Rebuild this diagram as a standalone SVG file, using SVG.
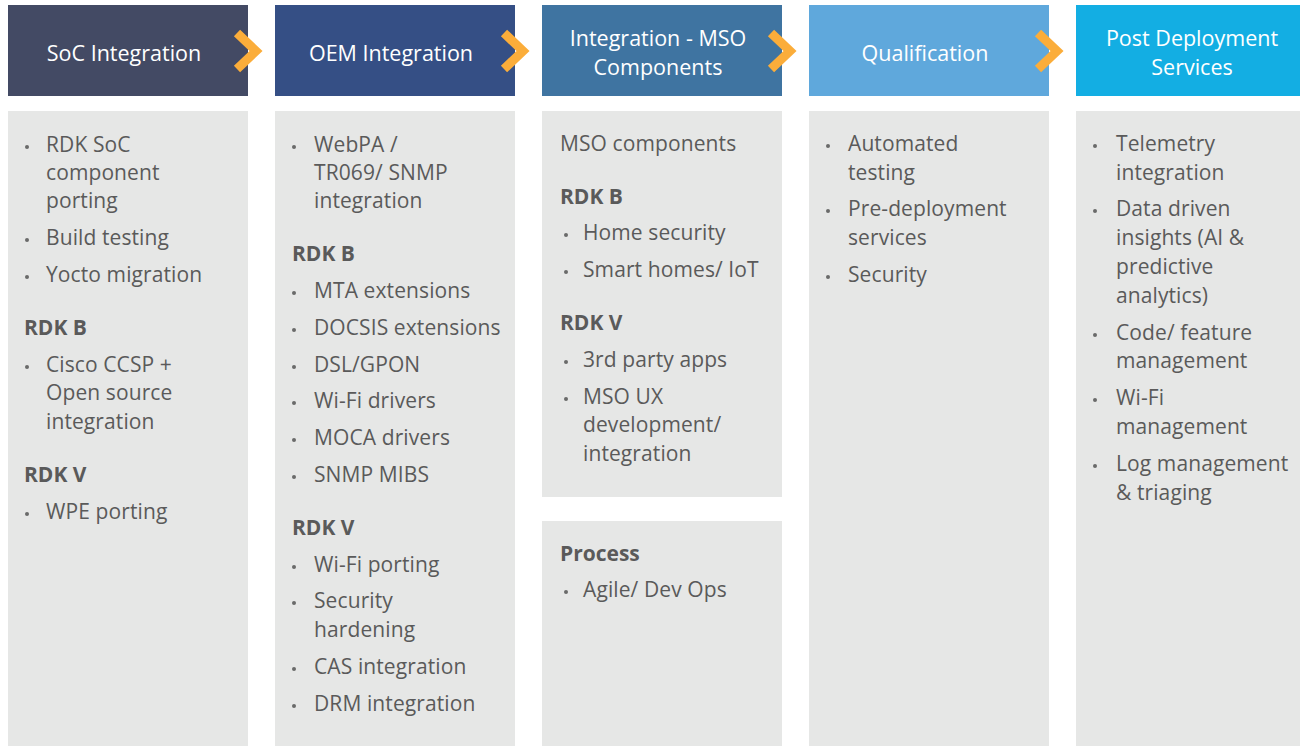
<svg xmlns="http://www.w3.org/2000/svg" width="1300" height="746" viewBox="0 0 1300 746">
<style>
.hd{font-family:"Open Sans","Liberation Sans",sans-serif;font-size:21.5px;fill:#ffffff;text-anchor:middle}
.t{font-family:"Open Sans","Liberation Sans",sans-serif;font-size:21px;letter-spacing:0.1px;fill:#5a5a5a}
.b{font-family:"Open Sans","Liberation Sans",sans-serif;font-size:21px;fill:#5a5a5a;font-weight:bold}
.body{fill:#e6e7e6}
.dot{fill:#6a6a6a}
.chev{fill:none;stroke:#fbad3a;stroke-width:9}
</style>
<rect width="1300" height="746" fill="#ffffff"/>
<g id="col1">
<rect x="8" y="5" width="240" height="91" fill="#434a64"/>
<text class="hd" x="124" y="61">SoC Integration</text>
<rect class="body" x="8" y="111" width="240" height="640"/>
<circle class="dot" cx="27" cy="147" r="2"/><text class="t" x="46" y="152">RDK SoC</text>
<text class="t" x="46" y="180">component</text>
<text class="t" x="46" y="208">porting</text>
<circle class="dot" cx="27" cy="240" r="2"/><text class="t" x="46" y="245">Build testing</text>
<circle class="dot" cx="27" cy="277" r="2"/><text class="t" x="46" y="282">Yocto migration</text>
<text class="b" x="24" y="335">RDK B</text>
<circle class="dot" cx="27" cy="367" r="2"/><text class="t" x="46" y="372">Cisco CCSP +</text>
<text class="t" x="46" y="400">Open source</text>
<text class="t" x="46" y="429">integration</text>
<text class="b" x="24" y="482">RDK V</text>
<circle class="dot" cx="27" cy="514" r="2"/><text class="t" x="46" y="519">WPE porting</text>
</g>
<g id="col2">
<rect x="275" y="5" width="240" height="91" fill="#354f85"/>
<text class="hd" x="391" y="61">OEM Integration</text>
<rect class="body" x="275" y="111" width="240" height="640"/>
<circle class="dot" cx="294" cy="147" r="2"/><text class="t" x="314" y="152">WebPA /</text>
<text class="t" x="314" y="180">TR069/ SNMP</text>
<text class="t" x="314" y="208">integration</text>
<text class="b" x="292" y="261">RDK B</text>
<circle class="dot" cx="294" cy="293" r="2"/><text class="t" x="314" y="298">MTA extensions</text>
<circle class="dot" cx="294" cy="330" r="2"/><text class="t" x="314" y="335">DOCSIS extensions</text>
<circle class="dot" cx="294" cy="367" r="2"/><text class="t" x="314" y="372">DSL/GPON</text>
<circle class="dot" cx="294" cy="403" r="2"/><text class="t" x="314" y="408">Wi-Fi drivers</text>
<circle class="dot" cx="294" cy="440" r="2"/><text class="t" x="314" y="445">MOCA drivers</text>
<circle class="dot" cx="294" cy="477" r="2"/><text class="t" x="314" y="482">SNMP MIBS</text>
<text class="b" x="292" y="535">RDK V</text>
<circle class="dot" cx="294" cy="567" r="2"/><text class="t" x="314" y="572">Wi-Fi porting</text>
<circle class="dot" cx="294" cy="603" r="2"/><text class="t" x="314" y="608">Security</text>
<text class="t" x="314" y="637">hardening</text>
<circle class="dot" cx="294" cy="669" r="2"/><text class="t" x="314" y="674">CAS integration</text>
<circle class="dot" cx="294" cy="706" r="2"/><text class="t" x="314" y="711">DRM integration</text>
</g>
<g id="col3">
<rect x="542" y="5" width="240" height="91" fill="#3f74a1"/>
<text class="hd" x="658" y="46">Integration - MSO</text>
<text class="hd" x="658" y="75">Components</text>
<rect class="body" x="542" y="111" width="240" height="386"/>
<text class="t" x="560" y="151">MSO components</text>
<text class="b" x="560" y="204">RDK B</text>
<circle class="dot" cx="566" cy="235" r="2"/><text class="t" x="583" y="240">Home security</text>
<circle class="dot" cx="566" cy="272" r="2"/><text class="t" x="583" y="277">Smart homes/ IoT</text>
<text class="b" x="560" y="330">RDK V</text>
<circle class="dot" cx="566" cy="362" r="2"/><text class="t" x="583" y="367">3rd party apps</text>
<circle class="dot" cx="566" cy="399" r="2"/><text class="t" x="583" y="404">MSO UX</text>
<text class="t" x="583" y="432">development/</text>
<text class="t" x="583" y="461">integration</text>
</g>
<g id="col3b">
<rect class="body" x="542" y="521" width="240" height="230"/>
<text class="b" x="560" y="561">Process</text>
<circle class="dot" cx="566" cy="592" r="2"/><text class="t" x="583" y="597">Agile/ Dev Ops</text>
</g>
<g id="col4">
<rect x="809" y="5" width="240" height="91" fill="#5fa8dc"/>
<text class="hd" x="925" y="61">Qualification</text>
<rect class="body" x="809" y="111" width="240" height="640"/>
<circle class="dot" cx="828" cy="146" r="2"/><text class="t" x="848" y="151">Automated</text>
<text class="t" x="848" y="180">testing</text>
<circle class="dot" cx="828" cy="211" r="2"/><text class="t" x="848" y="216">Pre-deployment</text>
<text class="t" x="848" y="245">services</text>
<circle class="dot" cx="828" cy="277" r="2"/><text class="t" x="848" y="282">Security</text>
</g>
<g id="col5">
<rect x="1076" y="5" width="240" height="91" fill="#13aee3"/>
<text class="hd" x="1192" y="46">Post Deployment</text>
<text class="hd" x="1192" y="75">Services</text>
<rect class="body" x="1076" y="111" width="240" height="640"/>
<circle class="dot" cx="1095" cy="146" r="2"/><text class="t" x="1116" y="151">Telemetry</text>
<text class="t" x="1116" y="180">integration</text>
<circle class="dot" cx="1095" cy="211" r="2"/><text class="t" x="1116" y="216">Data driven</text>
<text class="t" x="1116" y="245">insights (AI &amp;</text>
<text class="t" x="1116" y="274">predictive</text>
<text class="t" x="1116" y="303">analytics)</text>
<circle class="dot" cx="1095" cy="335" r="2"/><text class="t" x="1116" y="340">Code/ feature</text>
<text class="t" x="1116" y="368">management</text>
<circle class="dot" cx="1095" cy="400" r="2"/><text class="t" x="1116" y="405">Wi-Fi</text>
<text class="t" x="1116" y="434">management</text>
<circle class="dot" cx="1095" cy="466" r="2"/><text class="t" x="1116" y="471">Log management</text>
<text class="t" x="1116" y="500">&amp; triaging</text>
</g>
<g id="connectors">
<polyline class="chev" points="237,33 256,51 237,69"/>
<polyline class="chev" points="504,33 523,51 504,69"/>
<polyline class="chev" points="771,33 790,51 771,69"/>
<polyline class="chev" points="1038,33 1057,51 1038,69"/>
</g>
</svg>
